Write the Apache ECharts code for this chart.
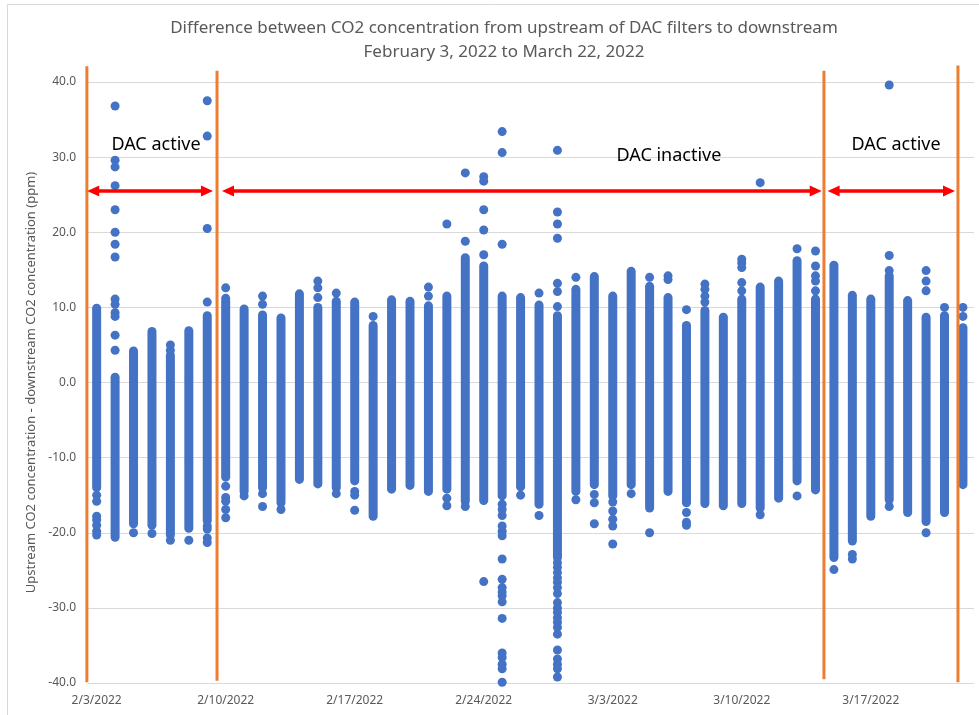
<!DOCTYPE html>
<html>
<head>
<meta charset="utf-8">
<script src="https://cdn.jsdelivr.net/npm/echarts@6.0.0/dist/echarts.min.js"></script>
<style>
  html, body { margin: 0; padding: 0; background: #fff; }
  #co2-chart { width: 979px; height: 715px; }
</style>
</head>
<body>
<div id="co2-chart"></div>
<script>
// one column of readings per day, index 0 = 2/3/2022
var days = [
  '2/3/2022', '2/4/2022', '2/5/2022', '2/6/2022', '2/7/2022', '2/8/2022', '2/9/2022',
  '2/10/2022', '2/11/2022', '2/12/2022', '2/13/2022', '2/14/2022', '2/15/2022', '2/16/2022',
  '2/17/2022', '2/18/2022', '2/19/2022', '2/20/2022', '2/21/2022', '2/22/2022', '2/23/2022',
  '2/24/2022', '2/25/2022', '2/26/2022', '2/27/2022', '2/28/2022', '3/1/2022', '3/2/2022',
  '3/3/2022', '3/4/2022', '3/5/2022', '3/6/2022', '3/7/2022', '3/8/2022', '3/9/2022',
  '3/10/2022', '3/11/2022', '3/12/2022', '3/13/2022', '3/14/2022', '3/15/2022', '3/16/2022',
  '3/17/2022', '3/18/2022', '3/19/2022', '3/20/2022', '3/21/2022', '3/22/2022'
];

// dense part of each day's column (top / bottom of the solid band of dots)
var bandHigh = [
  9.9, 0.7, 4.2, 6.8, 3.6, 6.9, 8.9,
  10.8, 9.8, 9.0, 8.6, 11.8, 10.0, 10.8,
  10.7, 7.6, 11.0, 10.8, 10.2, 11.5, 16.6,
  15.5, 11.5, 11.3, 10.3, 8.9, 12.4, 14.1,
  11.5, 14.8, 12.8, 11.3, 7.6, 9.6, 8.7,
  11.1, 12.7, 13.5, 16.2, 11.1, 15.6, 11.6,
  11.1, 14.2, 10.9, 8.7, 8.9, 7.3
];
var bandLow = [
  -14.0, -20.6, -18.8, -19.0, -20.3, -19.4, -18.4,
  -12.6, -14.5, -14.0, -16.0, -12.9, -13.5, -14.0,
  -13.1, -17.8, -14.2, -13.7, -14.5, -14.2, -15.8,
  -15.7, -15.1, -13.9, -16.2, -23.3, -14.5, -13.6,
  -15.1, -13.6, -16.7, -14.5, -16.0, -16.1, -16.4,
  -16.1, -16.7, -15.4, -13.1, -14.3, -23.3, -21.1,
  -17.8, -15.6, -17.3, -18.5, -17.3, -13.6
];

// single readings standing apart from the band, per day
var outliers = [
  [-15.0, -15.8, -17.8, -18.3, -19.0, -19.8, -20.3],
  [36.8, 29.6, 28.7, 26.2, 23.0, 20.0, 18.4, 16.7, 11.1, 10.4, 9.3, 8.8, 6.3, 4.3],
  [-20.0],
  [-20.1],
  [5.0, 4.3, -21.0],
  [-21.0],
  [37.5, 32.8, 20.5, 10.7, -19.1, -19.5, -20.7, -21.3],
  [12.6, 11.2, -13.8, -15.3, -15.8, -16.9, -18.0],
  [-15.1],
  [11.5, 10.4, -14.8, -16.5],
  [-16.9],
  [],
  [13.5, 12.6, 11.3],
  [11.9, -14.8],
  [-14.5, -15.0, -17.0],
  [8.8],
  [],
  [],
  [12.7, 11.5],
  [21.1, -15.4, -16.4],
  [27.9, 18.8, -16.5],
  [27.4, 26.8, 23.0, 20.3, 17.0, -26.5],
  [33.4, 30.6, 18.4, -16.2, -16.9, -17.7, -19.1, -19.8, -20.4, -23.5, -26.2, -27.3, -27.9,
   -28.4, -29.2, -31.4, -36.0, -36.6, -37.5, -38.1, -39.9],
  [-15.0],
  [11.9, -17.7],
  [30.9, 22.7, 21.1, 19.2, 13.2, 12.1, 10.1, -24.0, -24.6, -25.3, -26.0, -26.6, -27.3, -28.1,
   -29.3, -30.0, -30.6, -31.3, -31.9, -32.6, -33.5, -35.6, -36.8, -37.5, -38.1, -39.2],
  [14.0, -15.6],
  [-14.9, -16.0, -18.8],
  [-15.9, -17.1, -18.2, -19.1, -21.5],
  [-14.8],
  [14.0, -20.0],
  [14.2, 13.7],
  [9.7, -17.3, -18.6, -19.0],
  [13.1, 12.4, 11.5, 10.7],
  [],
  [16.4, 15.9, 15.3, 13.3, 12.2],
  [26.6, -17.6],
  [],
  [17.8, -15.1],
  [17.5, 15.5, 14.2, 13.5, 12.2],
  [-24.9],
  [-22.9, -23.5],
  [],
  [39.6, 16.9, 14.9, -16.5],
  [],
  [14.9, 13.5, 12.2, -20.0],
  [10.0],
  [10.0, 8.8]
];

var tickDays = [0, 7, 14, 21, 28, 35, 42];

// annotations, in axis units (day index, ppm)
var phaseLines = [[-0.53, 42.1, -39.9], [6.53, 41.5, -39.7], [39.46, 41.5, -39.5], [46.73, 42.2, -39.9]];
var phaseArrows = [[-0.51, 6.31, 25.5], [6.8, 39.34, 25.5], [39.66, 46.57, 25.5]];
var phaseLabels = ['DAC active', 'DAC inactive', 'DAC active'];
var phaseLabelPos = [[3.22, 31.6], [31.05, 30.1], [43.37, 31.6]];

var BLUE = '#4472C4';
var DOT = 9;
var FONT = 'Noto Sans';

var bandData = days.map(function (d, i) { return [i, bandLow[i], bandHigh[i]]; });
var outlierData = [];
outliers.forEach(function (vals, i) {
  vals.forEach(function (v) { outlierData.push([i, v]); });
});

var chart = echarts.init(document.getElementById('co2-chart'));

var option = {
  animation: false,
  backgroundColor: '#fff',
  textStyle: { fontFamily: FONT },
  title: {
    text: 'Difference between CO2 concentration from upstream of DAC filters to downstream\nFebruary 3, 2022 to March 22, 2022',
    left: 499,
    textAlign: 'center',
    top: 11,
    textStyle: { fontFamily: FONT, fontSize: 17, fontWeight: 'normal', color: '#595959', lineHeight: 24 }
  },
  graphic: [{
    type: 'rect',
    shape: { x: 7.5, y: 4.5, width: 990, height: 730 },
    style: { fill: null, stroke: '#D9D9D9', lineWidth: 1 },
    silent: true
  }],
  grid: { left: 88, right: 5, top: 82, bottom: 32 },
  xAxis: {
    type: 'value',
    min: -0.47,
    max: 47.6,
    splitLine: { show: false },
    axisTick: { show: false },
    axisLine: { show: false },
    axisLabel: {
      customValues: tickDays,
      formatter: function (v) { return days[Math.round(v)] || ''; },
      color: '#595959',
      fontSize: 12,
      margin: 12
    }
  },
  yAxis: {
    type: 'value',
    min: -40,
    max: 40,
    interval: 10,
    name: 'Upstream CO2 concentration - downstream CO2 concentration (ppm)',
    nameLocation: 'middle',
    nameGap: 46,
    nameTextStyle: { fontFamily: FONT, fontSize: 13, color: '#595959' },
    axisLine: { show: false },
    axisTick: { show: false },
    splitLine: { lineStyle: { color: '#D9D9D9', width: 1 } },
    axisLabel: {
      color: '#595959',
      fontSize: 12,
      margin: 12,
      formatter: function (v) { return v.toFixed(1); }
    }
  },
  series: [
    {
      name: 'band',
      type: 'custom',
      data: bandData,
      encode: { x: 0, y: [1, 2] },
      renderItem: function (params, api) {
        var top = api.coord([api.value(0), api.value(2)]);
        var bot = api.coord([api.value(0), api.value(1)]);
        var r = DOT / 2;
        return {
          type: 'rect',
          shape: { x: top[0] - r, y: top[1] - r, width: DOT, height: bot[1] - top[1] + DOT, r: r },
          style: { fill: BLUE }
        };
      },
      z: 2
    },
    {
      name: 'readings',
      type: 'scatter',
      data: outlierData,
      symbolSize: DOT,
      itemStyle: { color: BLUE, opacity: 1 },
      z: 3
    },
    {
      name: 'phase lines',
      type: 'custom',
      data: phaseLines,
      encode: { x: 0, y: [1, 2] },
      clip: false,
      renderItem: function (params, api) {
        var a = api.coord([api.value(0), api.value(1)]);
        var b = api.coord([api.value(0), api.value(2)]);
        return {
          type: 'line',
          shape: { x1: a[0], y1: a[1], x2: b[0], y2: b[1] },
          style: { stroke: '#ED7D31', lineWidth: 3 }
        };
      },
      z: 4
    },
    {
      name: 'phase arrows',
      type: 'custom',
      data: phaseArrows,
      encode: { x: [0, 1], y: 2 },
      clip: false,
      renderItem: function (params, api) {
        var a = api.coord([api.value(0), api.value(2)]);
        var b = api.coord([api.value(1), api.value(2)]);
        var head = 12, half = 5.5;
        return {
          type: 'group',
          children: [
            {
              type: 'line',
              shape: { x1: a[0] + head - 1, y1: a[1], x2: b[0] - head + 1, y2: b[1] },
              style: { stroke: '#FF0000', lineWidth: 3.5 }
            },
            {
              type: 'polygon',
              shape: { points: [[a[0], a[1]], [a[0] + head, a[1] - half], [a[0] + head, a[1] + half]] },
              style: { fill: '#FF0000' }
            },
            {
              type: 'polygon',
              shape: { points: [[b[0], b[1]], [b[0] - head, b[1] - half], [b[0] - head, b[1] + half]] },
              style: { fill: '#FF0000' }
            }
          ]
        };
      },
      z: 5
    },
    {
      name: 'phase labels',
      type: 'custom',
      data: phaseLabelPos,
      encode: { x: 0, y: 1 },
      clip: false,
      renderItem: function (params, api) {
        var p = api.coord([api.value(0), api.value(1)]);
        return {
          type: 'text',
          x: p[0],
          y: p[1],
          style: {
            text: phaseLabels[params.dataIndex],
            fill: '#000',
            font: '18px "Noto Sans"',
            align: 'center',
            verticalAlign: 'middle'
          }
        };
      },
      z: 6
    }
  ]
};

chart.setOption(option);
</script>
</body>
</html>
